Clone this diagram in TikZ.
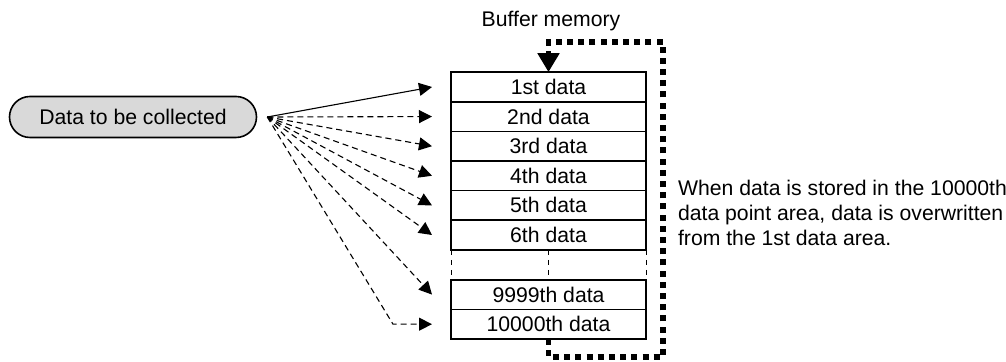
\documentclass[tikz,border=0pt]{standalone}
\usepackage{fontspec}
\setmainfont{Liberation Sans}
\usetikzlibrary{arrows.meta,positioning}

\begin{document}
\begin{tikzpicture}[x=0.5pt, y=-0.5pt,
    cell/.style={rectangle, draw, line width=0.8pt, minimum width=97.5pt, minimum height=14.8pt, inner sep=0pt, outer sep=0pt, font=\fontsize{10.6}{12.5}\selectfont},
    source/.style={rectangle, draw, line width=0.8pt, fill=black!15, rounded corners=10.25pt, minimum width=123.5pt, minimum height=20.5pt, font=\fontsize{10.6}{12.5}\selectfont},
    feed/.style={-{Triangle[length=6.5pt,width=6.5pt]}, line width=0.55pt, dash pattern=on 3pt off 2pt},
    wrap/.style={-{Triangle[length=9.5pt,width=10.5pt]}, line width=2.6pt, dash pattern=on 3pt off 2.6pt},
    gapline/.style={line width=0.5pt, dash pattern=on 2.5pt off 2.5pt},
    lbl/.style={font=\fontsize{10.6}{12.5}\selectfont, align=left}
]
\useasboundingbox (0,0) rectangle (1006,362);

\node[source] (src) at (133, 117) {Data to be collected};
\coordinate (fan) at ([xshift=5pt]src.east);

\node[cell] (r1) at (548.5, 87) {1st data};
\node[cell, below=0pt of r1] (r2) {2nd data};
\node[cell, below=0pt of r2] (r3) {3rd data};
\node[cell, below=0pt of r3] (r4) {4th data};
\node[cell, below=0pt of r4] (r5) {5th data};
\node[cell, below=0pt of r5] (r6) {6th data};
\node[cell, below=15pt of r6] (r9) {9999th data};
\node[cell, below=0pt of r9] (r10) {10000th data};

% omitted rows
\draw[gapline] (r6.south west) -- (r9.north west);
\draw[gapline] (r6.south) -- (r9.north);
\draw[gapline] (r6.south east) -- (r9.north east);

\node[lbl] (buf) at (551, 21) {Buffer memory};

% collected data into each area
\draw[feed, solid] (fan) -- ([xshift=-9.5pt]r1.west);
\draw[feed] (fan) -- ([xshift=-9.5pt]r2.west);
\draw[feed] (fan) -- ([xshift=-9.5pt]r3.west);
\draw[feed] (fan) -- ([xshift=-9.5pt]r4.west);
\draw[feed] (fan) -- ([xshift=-9.5pt]r5.west);
\draw[feed] (fan) -- ([xshift=-9.5pt]r6.west);
\draw[feed] (fan) -- ([xshift=-9.5pt]r9.west);
\draw[feed] (fan) -- ([xshift=-29pt]r10.west) -- ([xshift=-9.5pt]r10.west);

% ring back to the first area
\draw[wrap] (r10.south) |- (663, 357) -- (663, 42) -| (r1.north);

\node[lbl, anchor=west] (note) at (671, 213) {When data is stored in the 10000th\\data point area, data is overwritten\\from the 1st data area.};
\end{tikzpicture}
\end{document}
